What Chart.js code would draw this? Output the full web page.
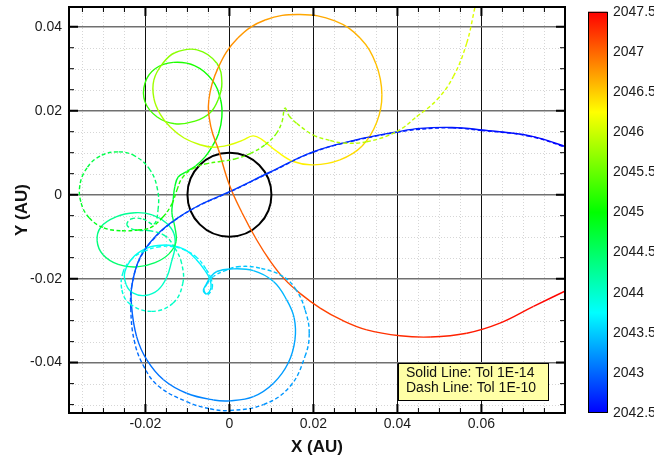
<!DOCTYPE html>
<html>
<head>
<meta charset="utf-8">
<script src="https://cdn.jsdelivr.net/npm/chart.js@4/dist/chart.umd.min.js"></script>
<style>
  html, body { margin: 0; padding: 0; background: #fff; overflow: hidden; }
  canvas { display: block; }
</style>
</head>
<body>
<canvas id="orbit" width="654" height="464"></canvas>
<script>
// trajectory samples: [x AU, y AU, year]
const solidPath = [
  [0.0823, 0.0107, 2042.50], [0.0716, 0.0140, 2042.55], [0.0601, 0.0154, 2042.60], [0.0530, 0.0160, 2042.62],
  [0.0454, 0.0158, 2042.64], [0.0401, 0.0150, 2042.66], [0.0299, 0.0130, 2042.69], [0.0199, 0.0102, 2042.72],
  [0.0097, 0.0054, 2042.75], [0.0000, 0.0007, 2042.78], [-0.0070, -0.0024, 2042.81], [-0.0130, -0.0060, 2042.84],
  [-0.0177, -0.0100, 2042.87], [-0.0213, -0.0150, 2042.90], [-0.0232, -0.0215, 2042.93], [-0.0233, -0.0266, 2042.96],
  [-0.0221, -0.0338, 2043.00], [-0.0197, -0.0393, 2043.04], [-0.0157, -0.0441, 2043.08], [-0.0102, -0.0473, 2043.12],
  [-0.0038, -0.0489, 2043.16], [0.0001, -0.0491, 2043.18], [0.0057, -0.0481, 2043.21], [0.0105, -0.0449, 2043.25],
  [0.0140, -0.0401, 2043.28], [0.0156, -0.0346, 2043.31], [0.0154, -0.0293, 2043.34], [0.0136, -0.0250, 2043.37],
  [0.0105, -0.0207, 2043.41], [0.0057, -0.0181, 2043.45], [0.0001, -0.0177, 2043.49], [-0.0030, -0.0183, 2043.52],
  [-0.0045, -0.0196, 2043.55], [-0.0056, -0.0215, 2043.58], [-0.0062, -0.0229, 2043.60], [-0.0054, -0.0236, 2043.62],
  [-0.0044, -0.0222, 2043.64], [-0.0046, -0.0203, 2043.66], [-0.0058, -0.0181, 2043.68], [-0.0080, -0.0153, 2043.71],
  [-0.0106, -0.0131, 2043.74], [-0.0137, -0.0121, 2043.77], [-0.0170, -0.0121, 2043.80], [-0.0201, -0.0129, 2043.83],
  [-0.0230, -0.0150, 2043.86], [-0.0249, -0.0184, 2043.89], [-0.0246, -0.0214, 2043.92], [-0.0230, -0.0234, 2043.95],
  [-0.0201, -0.0240, 2043.98], [-0.0170, -0.0227, 2044.01], [-0.0149, -0.0196, 2044.04], [-0.0138, -0.0160, 2044.07],
  [-0.0130, -0.0127, 2044.10], [-0.0132, -0.0093, 2044.14], [-0.0151, -0.0067, 2044.18], [-0.0184, -0.0048, 2044.22],
  [-0.0225, -0.0043, 2044.26], [-0.0270, -0.0053, 2044.30], [-0.0306, -0.0077, 2044.34], [-0.0315, -0.0110, 2044.38],
  [-0.0301, -0.0143, 2044.42], [-0.0265, -0.0166, 2044.46], [-0.0220, -0.0172, 2044.50], [-0.0177, -0.0162, 2044.54],
  [-0.0144, -0.0141, 2044.58], [-0.0127, -0.0112, 2044.62], [-0.0130, -0.0077, 2044.66], [-0.0137, -0.0043, 2044.70],
  [-0.0134, -0.0012, 2044.74], [-0.0130, 0.0019, 2044.78], [-0.0122, 0.0042, 2044.81], [-0.0102, 0.0055, 2044.84],
  [-0.0080, 0.0069, 2044.87], [-0.0058, 0.0090, 2044.90], [-0.0040, 0.0117, 2044.93], [-0.0026, 0.0145, 2044.96],
  [-0.0018, 0.0185, 2044.99], [-0.0021, 0.0226, 2045.04], [-0.0041, 0.0273, 2045.08], [-0.0082, 0.0307, 2045.12],
  [-0.0134, 0.0315, 2045.16], [-0.0177, 0.0300, 2045.20], [-0.0201, 0.0266, 2045.24], [-0.0201, 0.0221, 2045.28],
  [-0.0172, 0.0185, 2045.32], [-0.0130, 0.0169, 2045.36], [-0.0082, 0.0175, 2045.40], [-0.0046, 0.0195, 2045.44],
  [-0.0027, 0.0226, 2045.48], [-0.0018, 0.0266, 2045.53], [-0.0030, 0.0313, 2045.58], [-0.0077, 0.0345, 2045.63],
  [-0.0130, 0.0338, 2045.68], [-0.0160, 0.0311, 2045.72], [-0.0180, 0.0273, 2045.76], [-0.0180, 0.0230, 2045.80],
  [-0.0165, 0.0192, 2045.84], [-0.0141, 0.0161, 2045.88], [-0.0108, 0.0135, 2045.92], [-0.0070, 0.0119, 2045.97],
  [-0.0037, 0.0113, 2046.02], [0.0001, 0.0119, 2046.07], [0.0032, 0.0130, 2046.12], [0.0056, 0.0140, 2046.16],
  [0.0075, 0.0133, 2046.20], [0.0113, 0.0103, 2046.25], [0.0152, 0.0079, 2046.30], [0.0200, 0.0071, 2046.35],
  [0.0263, 0.0083, 2046.40], [0.0316, 0.0116, 2046.45], [0.0351, 0.0173, 2046.49], [0.0363, 0.0238, 2046.53],
  [0.0349, 0.0311, 2046.57], [0.0311, 0.0373, 2046.61], [0.0251, 0.0414, 2046.65], [0.0168, 0.0429, 2046.69],
  [0.0085, 0.0416, 2046.73], [0.0020, 0.0373, 2046.77], [-0.0027, 0.0302, 2046.81], [-0.0049, 0.0226, 2046.85],
  [-0.0044, 0.0161, 2046.89], [-0.0026, 0.0107, 2046.93], [0.0000, 0.0023, 2046.97], [0.0030, -0.0043, 2047.01],
  [0.0065, -0.0108, 2047.05], [0.0097, -0.0158, 2047.08], [0.0130, -0.0200, 2047.11], [0.0168, -0.0235, 2047.14],
  [0.0216, -0.0270, 2047.17], [0.0268, -0.0299, 2047.20], [0.0327, -0.0322, 2047.24], [0.0406, -0.0336, 2047.28],
  [0.0478, -0.0339, 2047.32], [0.0565, -0.0330, 2047.36], [0.0644, -0.0306, 2047.40], [0.0724, -0.0266, 2047.45],
  [0.0811, -0.0224, 2047.50]
];

const dashPath = [
  [0.0823, 0.0105, 2042.50], [0.0716, 0.0139, 2042.55], [0.0601, 0.0153, 2042.60], [0.0530, 0.0159, 2042.62],
  [0.0454, 0.0156, 2042.64], [0.0401, 0.0149, 2042.66], [0.0299, 0.0129, 2042.69], [0.0199, 0.0101, 2042.72],
  [0.0097, 0.0053, 2042.75], [0.0000, 0.0006, 2042.78], [-0.0070, -0.0025, 2042.81], [-0.0130, -0.0061, 2042.84],
  [-0.0177, -0.0102, 2042.87], [-0.0213, -0.0152, 2042.90], [-0.0232, -0.0215, 2042.93], [-0.0235, -0.0270, 2042.96],
  [-0.0227, -0.0346, 2043.00], [-0.0206, -0.0405, 2043.04], [-0.0170, -0.0455, 2043.08], [-0.0102, -0.0493, 2043.12],
  [-0.0046, -0.0510, 2043.15], [0.0001, -0.0514, 2043.17], [0.0081, -0.0500, 2043.21], [0.0144, -0.0457, 2043.25],
  [0.0180, -0.0385, 2043.29], [0.0190, -0.0330, 2043.32], [0.0180, -0.0274, 2043.35], [0.0159, -0.0227, 2043.38],
  [0.0128, -0.0195, 2043.41], [0.0073, -0.0175, 2043.45], [0.0025, -0.0171, 2043.48], [-0.0006, -0.0179, 2043.51],
  [-0.0038, -0.0195, 2043.54], [-0.0053, -0.0212, 2043.57], [-0.0060, -0.0229, 2043.59], [-0.0052, -0.0238, 2043.61],
  [-0.0041, -0.0222, 2043.63], [-0.0044, -0.0200, 2043.65], [-0.0056, -0.0177, 2043.67], [-0.0077, -0.0150, 2043.70],
  [-0.0104, -0.0133, 2043.73], [-0.0132, -0.0124, 2043.76], [-0.0165, -0.0124, 2043.79], [-0.0201, -0.0134, 2043.82],
  [-0.0232, -0.0153, 2043.85], [-0.0253, -0.0184, 2043.88], [-0.0256, -0.0227, 2043.91], [-0.0237, -0.0260, 2043.94],
  [-0.0185, -0.0278, 2043.98], [-0.0134, -0.0258, 2044.02], [-0.0111, -0.0211, 2044.06], [-0.0114, -0.0163, 2044.10],
  [-0.0130, -0.0127, 2044.14], [-0.0153, -0.0098, 2044.18], [-0.0189, -0.0086, 2044.22], [-0.0225, -0.0084, 2044.26],
  [-0.0244, -0.0072, 2044.29], [-0.0234, -0.0058, 2044.32], [-0.0206, -0.0058, 2044.35], [-0.0180, -0.0070, 2044.38],
  [-0.0170, -0.0036, 2044.42], [-0.0171, 0.0011, 2044.46], [-0.0189, 0.0059, 2044.50], [-0.0225, 0.0092, 2044.55],
  [-0.0265, 0.0102, 2044.60], [-0.0308, 0.0092, 2044.65], [-0.0339, 0.0064, 2044.70], [-0.0356, 0.0023, 2044.75],
  [-0.0353, -0.0020, 2044.80], [-0.0334, -0.0055, 2044.85], [-0.0299, -0.0079, 2044.90], [-0.0256, -0.0086, 2044.94],
  [-0.0218, -0.0084, 2044.98], [-0.0189, -0.0079, 2045.02], [-0.0158, -0.0053, 2045.07], [-0.0137, -0.0022, 2045.12],
  [-0.0125, 0.0011, 2045.17], [-0.0113, 0.0039, 2045.22], [-0.0089, 0.0061, 2045.28], [-0.0058, 0.0073, 2045.34],
  [-0.0022, 0.0079, 2045.40], [0.0013, 0.0085, 2045.46], [0.0049, 0.0098, 2045.52], [0.0085, 0.0119, 2045.58],
  [0.0111, 0.0145, 2045.64], [0.0125, 0.0173, 2045.69], [0.0132, 0.0206, 2045.74], [0.0142, 0.0188, 2045.77],
  [0.0160, 0.0170, 2045.80], [0.0200, 0.0142, 2045.84], [0.0240, 0.0129, 2045.87], [0.0271, 0.0123, 2045.89],
  [0.0327, 0.0126, 2045.92], [0.0398, 0.0150, 2045.96], [0.0446, 0.0186, 2045.99], [0.0494, 0.0226, 2046.02],
  [0.0533, 0.0281, 2046.05], [0.0565, 0.0361, 2046.08], [0.0585, 0.0448, 2046.11], [0.0592, 0.0476, 2046.12]
];

const xMajor = [-0.02, 0, 0.02, 0.04, 0.06];
const xMinor = [-0.035, -0.03, -0.025, -0.015, -0.01, -0.005, 0.005, 0.01, 0.015,
                0.025, 0.03, 0.035, 0.045, 0.05, 0.055, 0.065, 0.07, 0.075];
const yMajor = [-0.04, -0.02, 0, 0.02, 0.04];
const yMinor = [-0.05, -0.045, -0.035, -0.03, -0.025, -0.015, -0.01, -0.005,
                0.005, 0.01, 0.015, 0.025, 0.03, 0.035];
const cbTicks = [2042.5, 2043, 2043.5, 2044, 2044.5, 2045, 2045.5, 2046, 2046.5, 2047, 2047.5];
const cbMin = 2042.5, cbMax = 2047.5;
const bodyRadius = 0.01;
const noteLines = ['Solid Line: Tol 1E-14', 'Dash Line: Tol 1E-10'];

const jetStops = [[0, [0, 0, 255]], [0.25, [0, 255, 255]], [0.5, [0, 255, 0]], [0.75, [255, 255, 0]], [1, [255, 0, 0]]];

function timeColor(t) {
  let f = (t - cbMin) / (cbMax - cbMin);
  f = Math.max(0, Math.min(1, f));
  for (let i = 1; i < jetStops.length; i++) {
    if (f <= jetStops[i][0]) {
      const [f0, c0] = jetStops[i - 1], [f1, c1] = jetStops[i];
      const k = (f - f0) / (f1 - f0);
      const c = c0.map((v, j) => Math.round(v + (c1[j] - v) * k));
      return `rgb(${c[0]},${c[1]},${c[2]})`;
    }
  }
  return 'rgb(255,0,0)';
}

function pathDataset(path, dash) {
  return {
    data: path.map(p => ({ x: p[0], y: p[1] })),
    showLine: true,
    borderWidth: 1.4,
    borderDash: dash,
    pointRadius: 0,
    tension: 0.4,
    clip: 0,
    borderColor: timeColor(path[0][2]),
    segment: {
      borderColor: ctx => timeColor((path[ctx.p0DataIndex][2] + path[ctx.p1DataIndex][2]) / 2)
    }
  };
}

// scale boxes are sized by hand so the plot area lands where the original has it
const fixBox = (w, h) => s => {
  if (w) s.width = w;
  if (h) s.height = h;
  s.paddingTop = s.paddingBottom = s.paddingLeft = s.paddingRight = 0;
};

const FONT = "'Liberation Sans', Arial, Helvetica, sans-serif";
Chart.defaults.font.family = FONT;
Chart.defaults.color = '#1a1a1a';

const decorations = {
  id: 'decorations',
  beforeDatasetsDraw(chart) {
    const { ctx, chartArea: a, scales: { x, y } } = chart;
    ctx.save();
    // faint dotted minor grid
    ctx.strokeStyle = '#d6d6d6';
    ctx.lineWidth = 1;
    ctx.setLineDash([1, 2]);
    ctx.beginPath();
    xMinor.forEach(v => {
      const px = Math.round(x.getPixelForValue(v)) + 0.5;
      ctx.moveTo(px, a.top); ctx.lineTo(px, a.bottom);
    });
    yMinor.forEach(v => {
      const py = Math.round(y.getPixelForValue(v)) + 0.5;
      ctx.moveTo(a.left, py); ctx.lineTo(a.right, py);
    });
    ctx.stroke();
    ctx.setLineDash([]);
    // central body
    const cx = x.getPixelForValue(0), cy = y.getPixelForValue(0);
    const r = x.getPixelForValue(bodyRadius) - cx;
    ctx.strokeStyle = '#000';
    ctx.lineWidth = 2;
    ctx.beginPath();
    ctx.arc(cx, cy, r, 0, Math.PI * 2);
    ctx.stroke();
    ctx.restore();
  },
  afterDatasetsDraw(chart) {
    const { ctx, chartArea: a, scales: { x, y, cb } } = chart;
    ctx.save();
    // frame
    ctx.strokeStyle = '#000';
    ctx.lineWidth = 2;
    ctx.strokeRect(a.left, a.top, a.right - a.left, a.bottom - a.top);
    // inward tick marks on all four sides
    const tick = (vals, len, w) => {
      ctx.lineWidth = w;
      ctx.beginPath();
      vals.forEach(v => {
        const px = x.getPixelForValue(v);
        ctx.moveTo(px, a.bottom); ctx.lineTo(px, a.bottom - len);
        ctx.moveTo(px, a.top); ctx.lineTo(px, a.top + len);
      });
      ctx.stroke();
    };
    const tickY = (vals, len, w) => {
      ctx.lineWidth = w;
      ctx.beginPath();
      vals.forEach(v => {
        const py = y.getPixelForValue(v);
        ctx.moveTo(a.left, py); ctx.lineTo(a.left + len, py);
        ctx.moveTo(a.right, py); ctx.lineTo(a.right - len, py);
      });
      ctx.stroke();
    };
    tick(xMajor, 9, 2); tick(xMinor, 5, 1);
    tickY(yMajor, 9, 2); tickY(yMinor, 5, 1);

    // tolerance note
    const bw = 150, bh = 37;
    const bx = a.right - 17 - bw, by = a.bottom - 13 - bh;
    ctx.fillStyle = '#ffffa6';
    ctx.fillRect(bx, by, bw, bh);
    ctx.lineWidth = 1;
    ctx.strokeStyle = '#000';
    ctx.strokeRect(bx + 0.5, by + 0.5, bw, bh);
    ctx.fillStyle = '#111';
    ctx.font = '14px ' + FONT;
    ctx.textBaseline = 'middle';
    ctx.textAlign = 'left';
    noteLines.forEach((s, i) => ctx.fillText(s, bx + 8, by + 10.5 + i * 15));

    // colour bar
    const top = cb.getPixelForValue(cbMax), bottom = cb.getPixelForValue(cbMin);
    const left = a.right + 23, w = 19;
    const g = ctx.createLinearGradient(0, bottom, 0, top);
    jetStops.forEach(([f, c]) => g.addColorStop(f, `rgb(${c[0]},${c[1]},${c[2]})`));
    ctx.fillStyle = g;
    ctx.fillRect(left, top, w, bottom - top);
    ctx.strokeStyle = '#000';
    ctx.lineWidth = 1;
    ctx.strokeRect(left + 0.5, top + 0.5, w, bottom - top - 1);
    ctx.restore();
  }
};

new Chart(document.getElementById('orbit'), {
  type: 'scatter',
  data: {
    datasets: [pathDataset(dashPath, [4, 2.5]), pathDataset(solidPath, [])]
  },
  options: {
    responsive: false,
    animation: false,
    layout: { padding: { top: 7, right: 0, left: 0, bottom: 0 } },
    plugins: { legend: { display: false }, tooltip: { enabled: false } },
    scales: {
      x: {
        type: 'linear', position: 'bottom', min: -0.0382, max: 0.0799,
        afterBuildTicks: s => { s.ticks = xMajor.map(v => ({ value: v })); },
        afterFit: fixBox(0, 51),
        ticks: { autoSkip: false, maxRotation: 0, padding: 3, font: { size: 14 }, callback: v => String(v) },
        grid: { color: '#111', lineWidth: 1, drawTicks: false },
        border: { display: false },
        title: { display: true, text: 'X (AU)', font: { size: 17, weight: 'bold' }, padding: { top: 0, bottom: 6 }, color: '#111' }
      },
      y: {
        type: 'linear', position: 'left', min: -0.052, max: 0.0447,
        afterBuildTicks: s => { s.ticks = yMajor.map(v => ({ value: v })); },
        afterFit: fixBox(69, 0),
        ticks: { autoSkip: false, padding: 7, font: { size: 14 }, callback: v => String(v) },
        grid: { color: '#707070', lineWidth: 1.4, drawTicks: false },
        border: { display: false },
        title: { display: true, text: 'Y (AU)', font: { size: 17, weight: 'bold' }, padding: { top: 12, bottom: 0 }, color: '#111' }
      },
      cb: {
        type: 'linear', axis: 'y', position: 'right', min: cbMin, max: 2047.56,
        afterBuildTicks: s => { s.ticks = cbTicks.map(v => ({ value: v })); },
        afterFit: fixBox(89, 0),
        ticks: { autoSkip: false, padding: 48, font: { size: 14 }, callback: v => String(v) },
        grid: { display: false, drawTicks: false },
        border: { display: false }
      }
    }
  },
  plugins: [decorations]
});
</script>
</body>
</html>
